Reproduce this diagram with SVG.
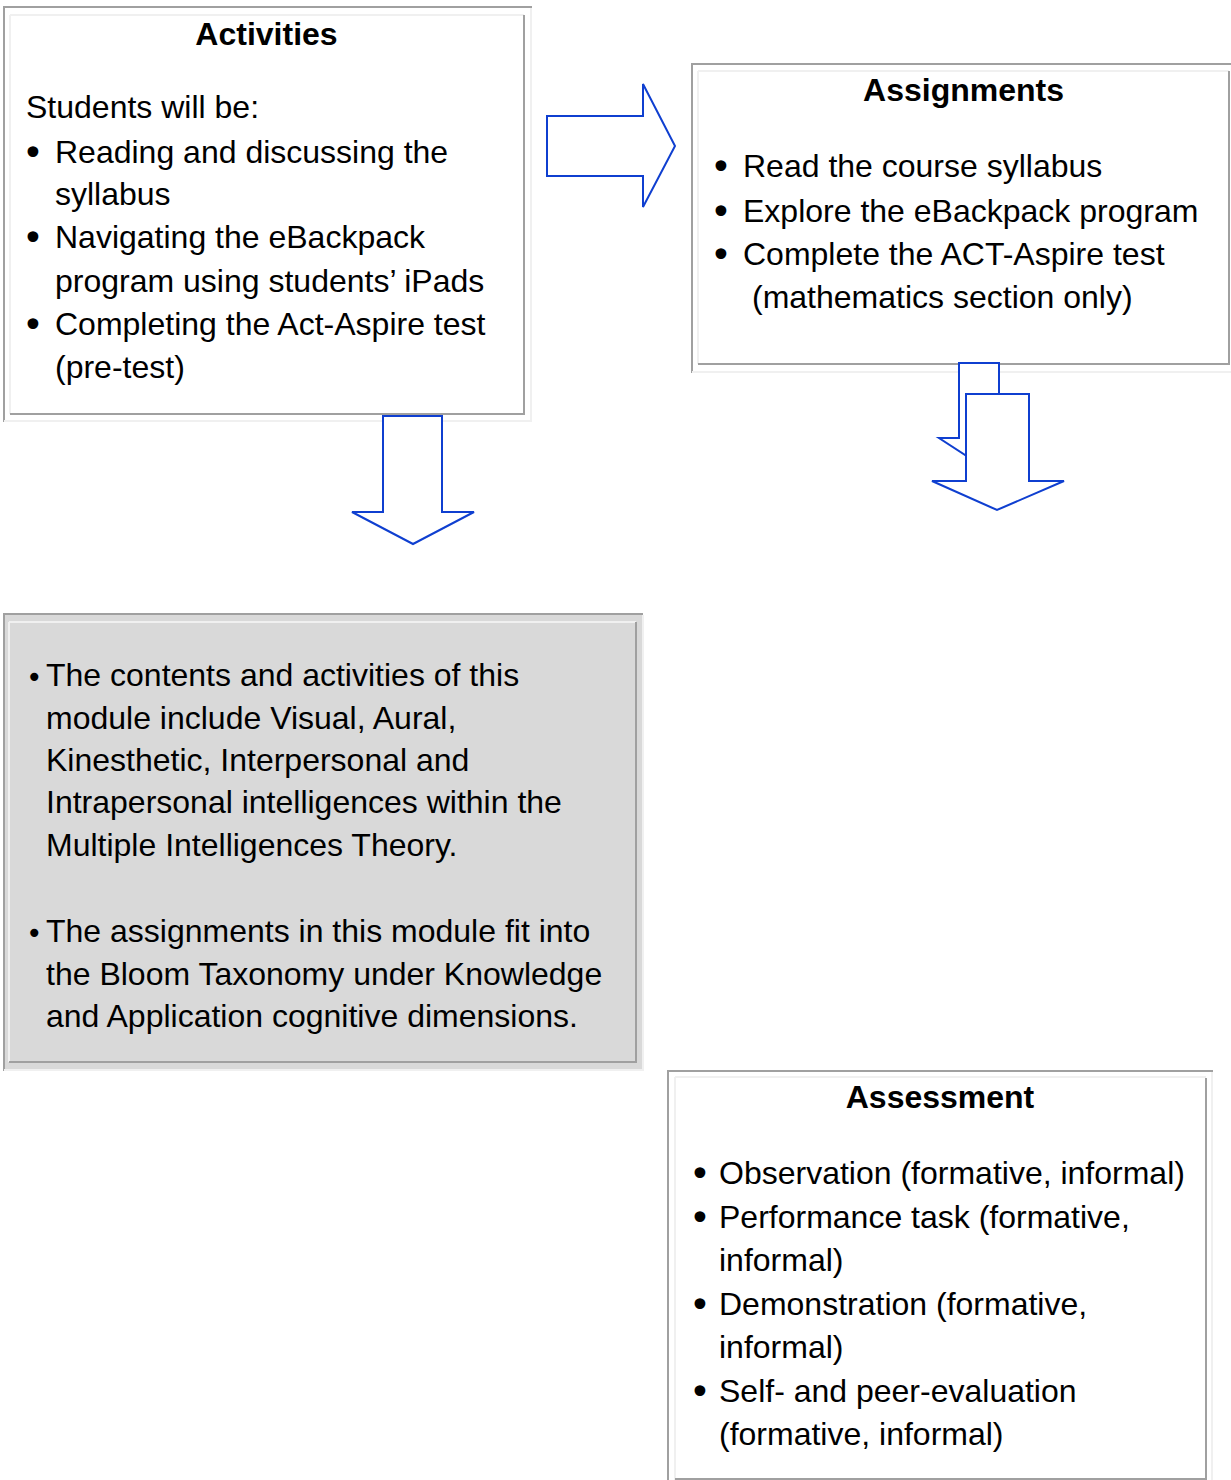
<svg xmlns="http://www.w3.org/2000/svg" width="1231" height="1480" viewBox="0 0 1231 1480">
<style>
.dk{stroke:#a0a0a0;stroke-width:2;fill:none}
.lt{stroke:#f0f0f0;stroke-width:2;fill:none}
.t{font-family:"Liberation Sans",Arial,sans-serif;font-size:32px;fill:#000}
.b{font-weight:bold}
.bul{font-family:"DejaVu Sans",sans-serif;font-size:37px;fill:#000}
.sbul{font-family:"DejaVu Sans",sans-serif;font-size:28px;fill:#000}
.arr{fill:#fff;stroke:#0f3fd0;stroke-width:2;stroke-linejoin:miter}
</style>
<rect x="0" y="0" width="1231" height="1480" fill="#fff"/>

<g id="activities">
<line class="dk" x1="3" y1="7" x2="532" y2="7"/>
<line class="dk" x1="4" y1="6" x2="4" y2="422"/>
<line class="lt" x1="4" y1="421" x2="532" y2="421"/>
<line class="lt" x1="531" y1="8" x2="531" y2="421"/>
<line class="lt" x1="10" y1="15" x2="524" y2="15"/>
<line class="lt" x1="10" y1="15" x2="10" y2="414"/>
<line class="dk" x1="524" y1="15" x2="524" y2="415"/>
<line class="dk" x1="10" y1="414" x2="525" y2="414"/>
<text class="t b" x="266.5" y="45" text-anchor="middle">Activities</text>
<text class="t" x="26" y="118">Students will be:</text>
<text class="bul" x="22" y="165.5">•</text>
<text class="t" x="55" y="163">Reading and discussing the</text>
<text class="t" x="55" y="205">syllabus</text>
<text class="bul" x="22" y="250.5">•</text>
<text class="t" x="55" y="248">Navigating the eBackpack</text>
<text class="t" x="55" y="292">program using students’ iPads</text>
<text class="bul" x="22" y="337.5">•</text>
<text class="t" x="55" y="335">Completing the Act-Aspire test</text>
<text class="t" x="55" y="378">(pre-test)</text>
</g>

<g id="assignments">
<line class="dk" x1="691" y1="64" x2="1231" y2="64"/>
<line class="dk" x1="692" y1="63" x2="692" y2="373"/>
<line class="lt" x1="692" y1="372" x2="1231" y2="372"/>
<line class="lt" x1="698" y1="71" x2="1229" y2="71"/>
<line class="lt" x1="698" y1="71" x2="698" y2="364"/>
<line class="dk" x1="1229" y1="71" x2="1229" y2="365"/>
<line class="dk" x1="698" y1="364" x2="1230" y2="364"/>
<text class="t b" x="963.5" y="101" text-anchor="middle">Assignments</text>
<text class="bul" x="710" y="179.5">•</text>
<text class="t" x="743" y="177">Read the course syllabus</text>
<text class="bul" x="710" y="224.5">•</text>
<text class="t" x="743" y="222">Explore the eBackpack program</text>
<text class="bul" x="710" y="267.5">•</text>
<text class="t" x="743" y="265">Complete the ACT-Aspire test</text>
<text class="t" x="752" y="308">(mathematics section only)</text>
</g>

<g id="principles">
<rect x="4" y="614" width="639" height="456" fill="#d9d9d9"/>
<line class="dk" x1="3" y1="614" x2="643" y2="614"/>
<line class="dk" x1="4" y1="613" x2="4" y2="1071"/>
<line class="lt" x1="643" y1="615" x2="643" y2="1070"/>
<line class="lt" x1="4" y1="1070" x2="644" y2="1070"/>
<line class="lt" x1="9" y1="622" x2="636" y2="622"/>
<line class="lt" x1="9" y1="622" x2="9" y2="1062"/>
<line class="dk" x1="636" y1="622" x2="636" y2="1063"/>
<line class="dk" x1="9" y1="1062" x2="637" y2="1062"/>
<text class="sbul" x="26" y="686.5">•</text>
<text class="t" x="46" y="686">The contents and activities of this</text>
<text class="t" x="46" y="729">module include Visual, Aural,</text>
<text class="t" x="46" y="771">Kinesthetic, Interpersonal and</text>
<text class="t" x="46" y="813">Intrapersonal intelligences within the</text>
<text class="t" x="46" y="856">Multiple Intelligences Theory.</text>
<text class="sbul" x="26" y="942.5">•</text>
<text class="t" x="46" y="942">The assignments in this module fit into</text>
<text class="t" x="46" y="985">the Bloom Taxonomy under Knowledge</text>
<text class="t" x="46" y="1027">and Application cognitive dimensions.</text>
</g>

<g id="assessment">
<line class="dk" x1="667" y1="1071" x2="1213" y2="1071"/>
<line class="dk" x1="668" y1="1070" x2="668" y2="1480"/>
<line class="lt" x1="1212" y1="1072" x2="1212" y2="1480"/>
<line class="lt" x1="675" y1="1077" x2="1206" y2="1077"/>
<line class="lt" x1="675" y1="1077" x2="675" y2="1480"/>
<line class="dk" x1="1206" y1="1078" x2="1206" y2="1480"/>
<line class="dk" x1="675" y1="1479" x2="1207" y2="1479"/>
<text class="t b" x="940" y="1108" text-anchor="middle">Assessment</text>
<text class="bul" x="689" y="1186.5">•</text>
<text class="t" x="719" y="1184">Observation (formative, informal)</text>
<text class="bul" x="689" y="1230.5">•</text>
<text class="t" x="719" y="1228">Performance task (formative,</text>
<text class="t" x="719" y="1271">informal)</text>
<text class="bul" x="689" y="1317.5">•</text>
<text class="t" x="719" y="1315">Demonstration (formative,</text>
<text class="t" x="719" y="1358">informal)</text>
<text class="bul" x="689" y="1404.5">•</text>
<text class="t" x="719" y="1402">Self- and peer-evaluation</text>
<text class="t" x="719" y="1445">(formative, informal)</text>
</g>

<g id="connectors">
<polygon class="arr" points="547,116 643,116 643,84 675,146 643,207 643,176 547,176"/>
<polygon class="arr" points="383,416 442,416 442,512 474,512 413,544 352,512 383,512"/>
<polygon class="arr" points="959,363 999,363 999,438 1019,438 979,464 939,438 959,438"/>
<polygon class="arr" points="966,394 1029,394 1029,481 1064,481 997,510 932,481 966,481"/>
</g>
</svg>
